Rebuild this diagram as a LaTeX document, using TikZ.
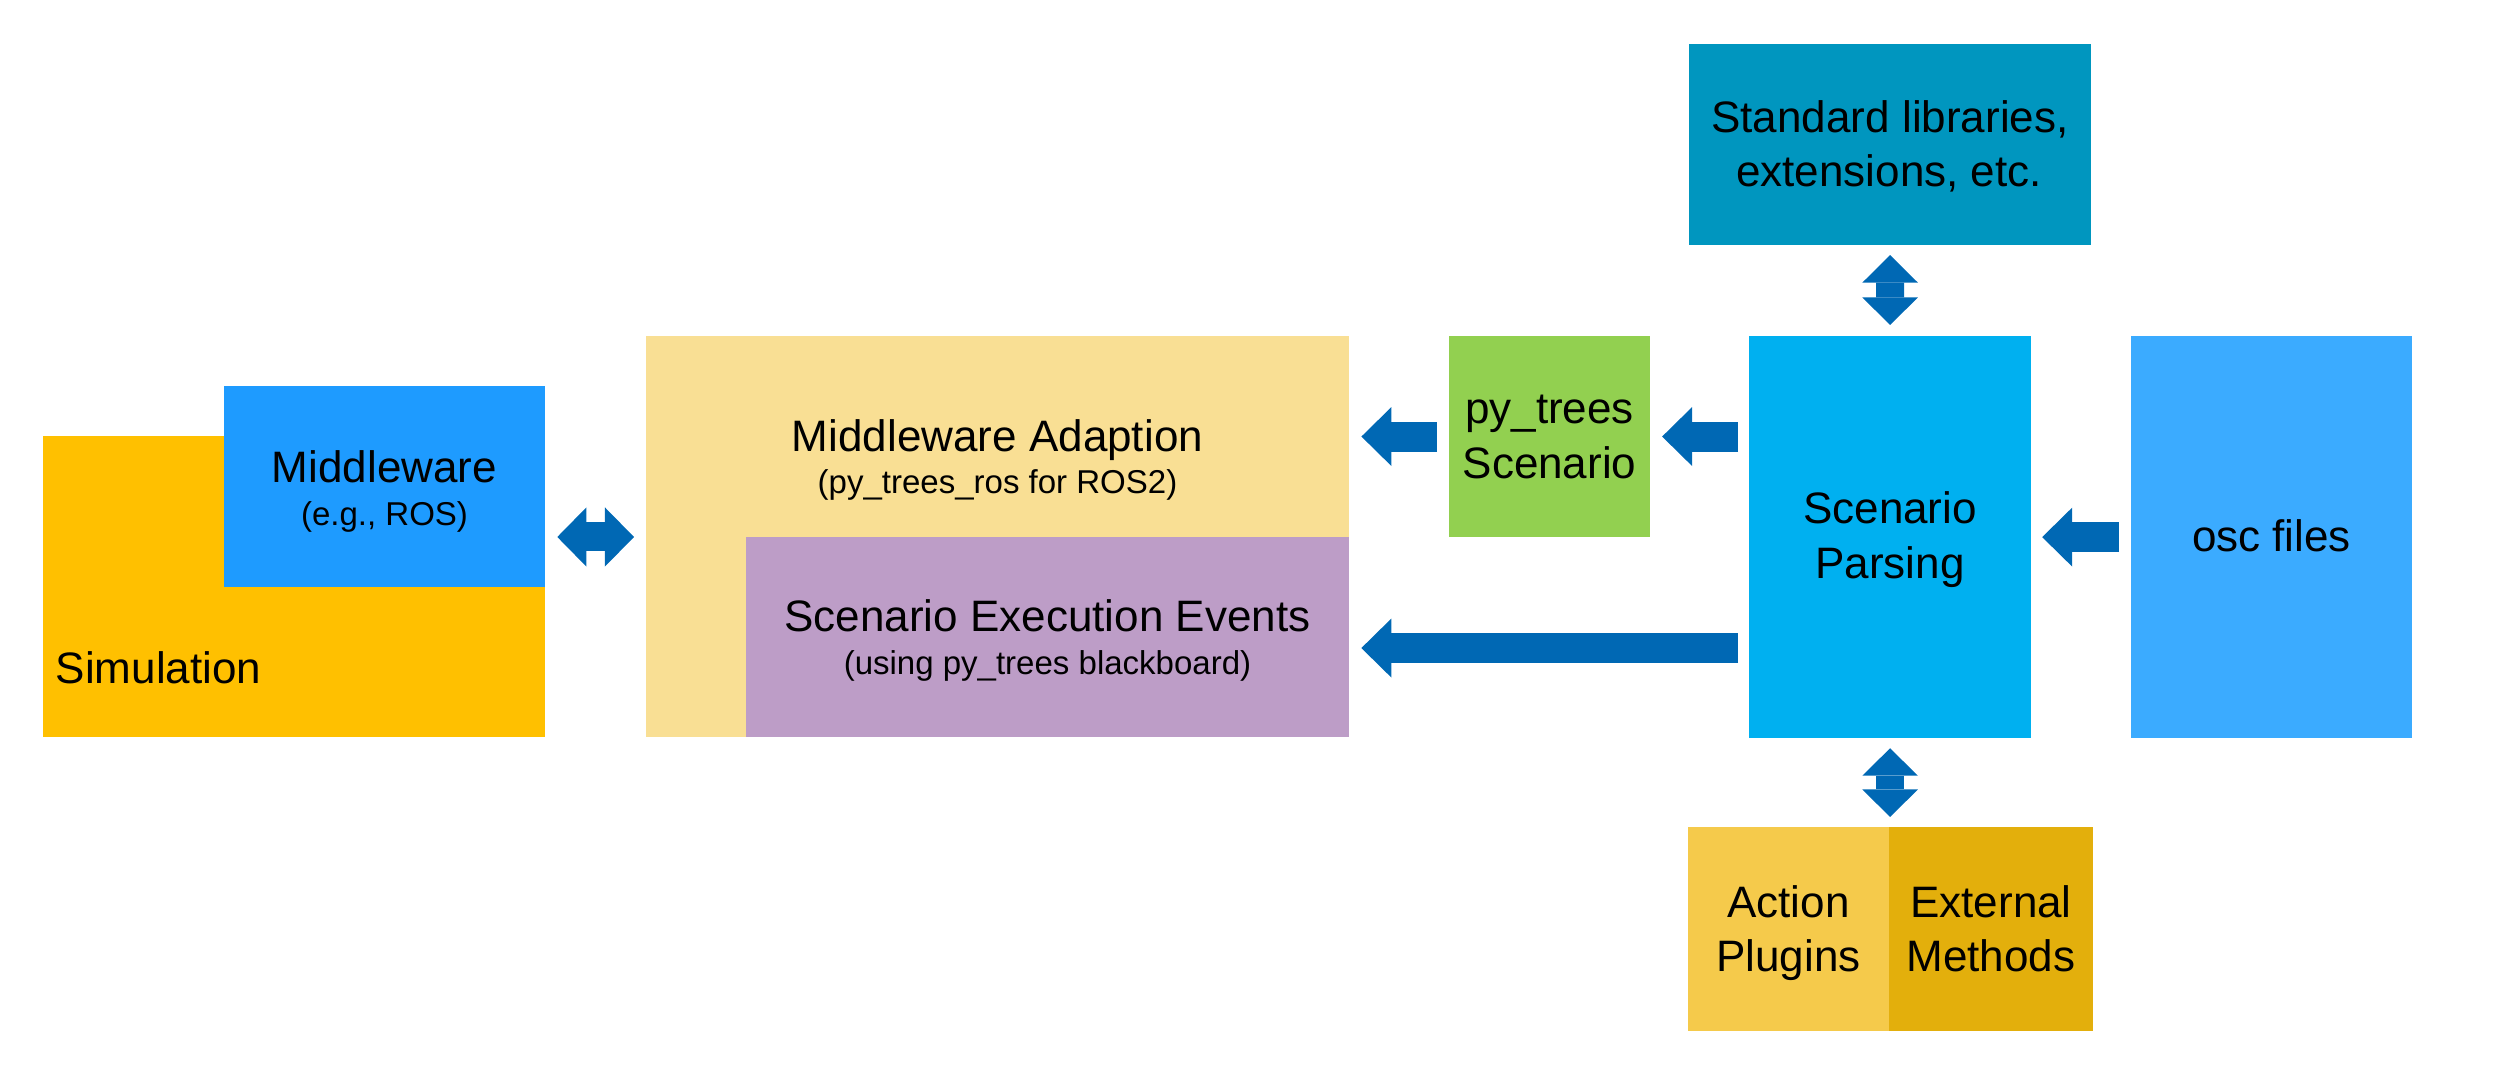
\documentclass[tikz,border=0pt]{standalone}
\usepackage{fontspec}
\setmainfont{Liberation Sans}
\usetikzlibrary{arrows.meta,calc}
\definecolor{cSim}{HTML}{FFC000}
\definecolor{cMw}{HTML}{1E9BFF}
\definecolor{cAd}{HTML}{F9DF94}
\definecolor{cSee}{HTML}{BD9DC7}
\definecolor{cPy}{HTML}{92D050}
\definecolor{cSp}{HTML}{00B0F0}
\definecolor{cOsc}{HTML}{3BABFF}
\definecolor{cStd}{HTML}{0096BF}
\definecolor{cAct}{HTML}{F5CA4B}
\definecolor{cExt}{HTML}{E3AF0C}
\definecolor{cArr}{HTML}{0068B4}
\begin{document}
\begin{tikzpicture}[x=0.01cm,y=-0.01cm,
  box/.style={rectangle, draw=none, inner sep=0pt, outer sep=0pt, anchor=north west},
  maintext/.style={font=\fontsize{12.52}{15.65}\selectfont, inner sep=0pt, anchor=base},
  subtext/.style={font=\fontsize{9.39}{11.5}\selectfont, inner sep=0pt, anchor=base},
  harrow/.style={draw=cArr, line width=0.3cm, -{Triangle[length=0.3cm,width=0.59cm,line width=0pt]}},
  hdarrow/.style={draw=cArr, line width=0.29cm, {Triangle[length=0.29cm,width=0.59cm,line width=0pt]}-{Triangle[length=0.29cm,width=0.59cm,line width=0pt]}},
  vdarrow/.style={draw=cArr, line width=0.28cm, {Triangle[length=0.275cm,width=0.555cm,line width=0pt]}-{Triangle[length=0.275cm,width=0.555cm,line width=0pt]}}
]
\useasboundingbox (0,0) rectangle (2506,1077);

% boxes
\node[box, fill=cSim, minimum width=5.02cm, minimum height=3.01cm] (sim) at (43,436) {};
\node[box, fill=cMw,  minimum width=3.21cm, minimum height=2.01cm] (mw) at (224,386) {};
\node[box, fill=cAd,  minimum width=7.03cm, minimum height=4.01cm] (ad) at (646,336) {};
\node[box, fill=cSee, minimum width=6.03cm, minimum height=2.00cm] (see) at (746,537) {};
\node[box, fill=cPy,  minimum width=2.01cm, minimum height=2.01cm] (py) at (1449,336) {};
\node[box, fill=cSp,  minimum width=2.82cm, minimum height=4.02cm] (sp) at (1749,336) {};
\node[box, fill=cOsc, minimum width=2.81cm, minimum height=4.02cm] (osc) at (2131,336) {};
\node[box, fill=cStd, minimum width=4.02cm, minimum height=2.01cm] (std) at (1689,44) {};
\node[box, fill=cAct, minimum width=2.01cm, minimum height=2.04cm] (act) at (1688,827) {};
\node[box, fill=cExt, minimum width=2.04cm, minimum height=2.04cm] (ext) at (1889,827) {};

% texts
\node[maintext, anchor=base west] (tSim) at (55,684) {Simulation};
\node[maintext] (tMw1) at (384.5,483) {Middleware};
\node[subtext]  (tMw2) at (384.5,526) {(e.g., ROS)};
\node[maintext] (tAd1) at (997.5,452) {Middleware Adaption};
\node[subtext]  (tAd2) at (997.5,494) {(py\_trees\_ros for ROS2)};
\node[maintext] (tSee1) at (1047.5,632) {Scenario Execution Events};
\node[subtext]  (tSee2) at (1047.5,675) {(using py\_trees blackboard)};
\node[maintext] (tPy1) at (1549.5,424) {py\_trees};
\node[maintext] (tPy2) at (1549.5,479) {Scenario};
\node[maintext] (tSp1) at (1890,524) {Scenario};
\node[maintext] (tSp2) at (1890,579) {Parsing};
\node[maintext] (tOsc) at (2271.5,552) {osc files};
\node[maintext] (tStd1) at (1890,133) {Standard libraries,};
\node[maintext] (tStd2) at (1889,187) {extensions, etc.};
\node[maintext] (tAct1) at (1788.5,918) {Action};
\node[maintext] (tAct2) at (1788.5,972) {Plugins};
\node[maintext] (tExt1) at (1991,918) {External};
\node[maintext] (tExt2) at (1991,972) {Methods};

% connectors
\draw[hdarrow] ($(sim.east |- see.north)+(12,0)$) -- ($(ad.west |- see.north)+(-12,0)$);
\draw[harrow] ($(py.west)+(-12,0)$) -- ($(ad.east |- py.west)+(12,0)$);
\draw[harrow] ($(sp.west |- py.east)+(-11,0)$) -- ($(py.east)+(12,0)$);
\draw[harrow] ($(sp.west |- see.east)+(-11,11)$) -- ($(see.east)+(12,11)$);
\draw[harrow] ($(osc.west)+(-12,0)$) -- ($(sp.east |- osc.west)+(11,0)$);
\draw[vdarrow] ($(std.south)+(0,10)$) -- ($(sp.north)+(0,-11)$);
\draw[vdarrow] ($(sp.south)+(0,10)$) -- ($(sp.south |- act.north)+(0,-10)$);
\end{tikzpicture}
\end{document}
